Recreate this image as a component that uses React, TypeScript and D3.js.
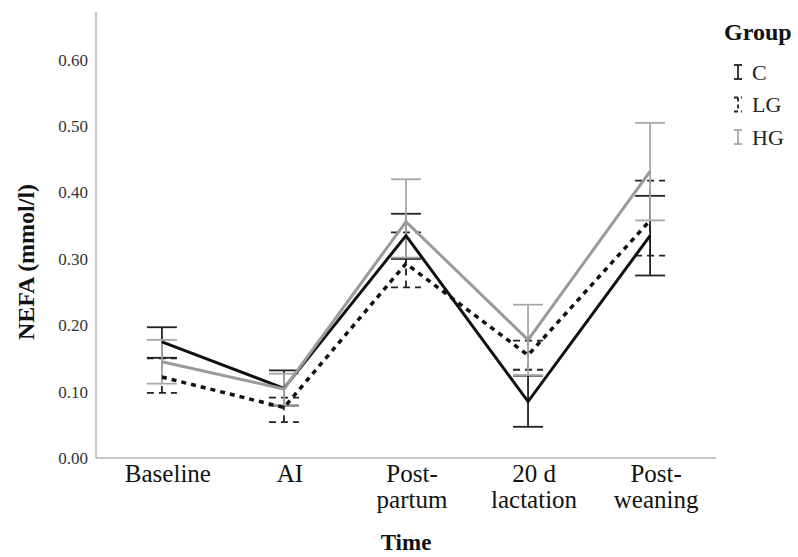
import React from "react";
import * as d3 from "d3";

const categories = ["Baseline", "AI", "Post-partum", "20 d lactation", "Post-weaning"];
const categoryLabels = [["Baseline"], ["AI"], ["Post-", "partum"], ["20 d", "lactation"], ["Post-", "weaning"]];
const yTicks = [0, 0.1, 0.2, 0.3, 0.4, 0.5, 0.6];

const cMean = [0.175, 0.105, 0.335, 0.085, 0.335];
const cLow = [0.151, 0.079, 0.300, 0.047, 0.275];
const cHigh = [0.197, 0.132, 0.368, 0.124, 0.395];

const lgMean = [0.122, 0.076, 0.293, 0.155, 0.358];
const lgLow = [0.098, 0.054, 0.257, 0.133, 0.305];
const lgHigh = [0.150, 0.091, 0.340, 0.177, 0.418];

const hgMean = [0.145, 0.104, 0.356, 0.178, 0.432];
const hgLow = [0.112, 0.080, 0.302, 0.125, 0.358];
const hgHigh = [0.178, 0.127, 0.420, 0.231, 0.505];

const groupNames = ["C", "LG", "HG"];

const W = 798;
const H = 557;
const FONT = "'Liberation Serif', 'Times New Roman', serif";

export default function App() {
  const x = d3.scalePoint<string>().domain(categories).range([96, 716]).padding(0.54);
  const y = d3.scaleLinear().domain([0, 0.672]).range([458, 12]);

  const series = [
    { name: "C", mean: cMean, low: cLow, high: cHigh, color: "#111", width: 3, dash: undefined as string | undefined, ebColor: "#222", ebDash: undefined as string | undefined },
    { name: "LG", mean: lgMean, low: lgLow, high: lgHigh, color: "#111", width: 3.5, dash: "5 5", ebColor: "#222", ebDash: "7 5" },
    { name: "HG", mean: hgMean, low: hgLow, high: hgHigh, color: "#9a9a9a", width: 3, dash: undefined, ebColor: "#a8a8a8", ebDash: undefined },
  ];

  const line = d3
    .line<number>()
    .x((_, i) => x(categories[i]) as number)
    .y((d) => y(d));

  const capW = 15;

  return (
    <svg width={W} height={H} style={{ position: "absolute", left: 0, top: 0, background: "#fff" }}>
      {/* axes */}
      <line x1={96} y1={12} x2={96} y2={458} stroke="#b5b5b5" strokeWidth={1.5} />
      <line x1={96} y1={458} x2={716} y2={458} stroke="#b5b5b5" strokeWidth={1.5} />
      {yTicks.map((t) => (
        <text key={t} x={88} y={y(t)} dy="0.35em" textAnchor="end" fontFamily={FONT} fontSize={17} fill="#333">
          {d3.format(".2f")(t)}
        </text>
      ))}
      {categories.map((c, i) => (
        <text key={c} x={(x(c) as number) + 6} y={482} textAnchor="middle" fontFamily={FONT} fontSize={25} fill="#111">
          {categoryLabels[i].map((l, j) => (
            <tspan key={j} x={(x(c) as number) + 6} dy={j === 0 ? 0 : 26}>
              {l}
            </tspan>
          ))}
        </text>
      ))}
      <text x={406} y={550} textAnchor="middle" fontFamily={FONT} fontSize={23} fontWeight="bold" fill="#111">
        Time
      </text>
      <text
        transform={`translate(34, 262) rotate(-90)`}
        textAnchor="middle"
        fontFamily={FONT}
        fontSize={24}
        fontWeight="bold"
        fill="#111"
      >
        NEFA (mmol/l)
      </text>

      {/* error bars */}
      {series.map((s) => (
        <g key={s.name + "eb"} stroke={s.ebColor} strokeWidth={1.8} strokeDasharray={s.ebDash} fill="none">
          {categories.map((c, i) => {
            const cx = x(c) as number;
            return (
              <g key={c}>
                <line x1={cx} x2={cx} y1={y(s.low[i])} y2={y(s.high[i])} />
                <line x1={cx - capW} x2={cx + capW} y1={y(s.low[i])} y2={y(s.low[i])} />
                <line x1={cx - capW} x2={cx + capW} y1={y(s.high[i])} y2={y(s.high[i])} />
              </g>
            );
          })}
        </g>
      ))}

      {/* lines */}
      {series.map((s) => (
        <path
          key={s.name}
          d={line(s.mean) as string}
          fill="none"
          stroke={s.color}
          strokeWidth={s.width}
          strokeDasharray={s.dash}
          strokeLinejoin="miter"
        />
      ))}

      {/* legend */}
      <text x={724} y={40} fontFamily={FONT} fontSize={24} fontWeight="bold" fill="#111">
        Group
      </text>
      {series.map((s, i) => {
        const cy = 72 + i * 32.5;
        const gx = 738;
        return (
          <g key={s.name + "leg"}>
            <g stroke={s.ebColor} strokeWidth={1.8} strokeDasharray={s.ebDash ? "4 3" : undefined}>
              <line x1={gx} x2={gx} y1={cy - 7} y2={cy + 7} />
              <line x1={gx - 4} x2={gx + 4} y1={cy - 7} y2={cy - 7} />
              <line x1={gx - 4} x2={gx + 4} y1={cy + 7} y2={cy + 7} />
            </g>
            <text x={752} y={cy} dy="0.35em" fontFamily={FONT} fontSize={22} fill="#222">
              {groupNames[i]}
            </text>
          </g>
        );
      })}
    </svg>
  );
}
